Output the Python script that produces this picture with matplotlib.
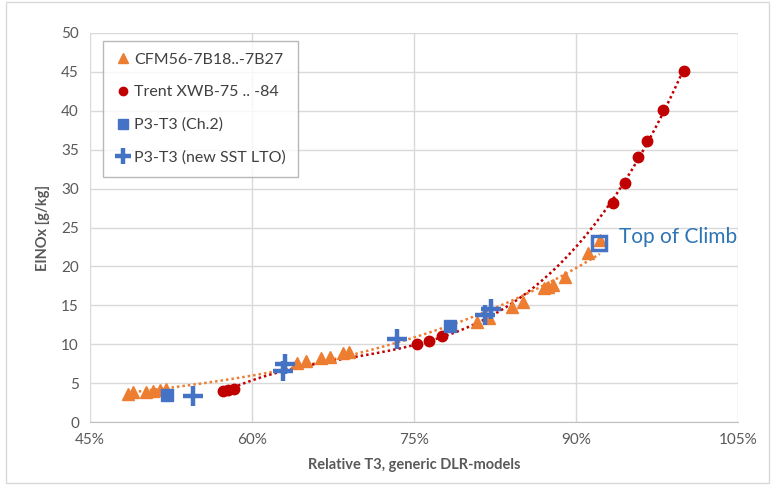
import matplotlib.pyplot as plt
import numpy as np

# CFM56-7B18..-7B27 (orange triangles)
cfm_x = [48.5, 49.0, 50.2, 50.8, 51.5, 52.0, 64.2, 65.0, 66.4, 67.2, 68.4, 69.0,
         80.8, 81.9, 84.1, 85.1, 87.0, 87.4, 87.9, 89.0, 91.1, 92.2]
cfm_y = [3.6, 3.8, 3.9, 4.0, 4.1, 4.3, 7.6, 7.8, 8.2, 8.4, 8.9, 9.0,
         12.9, 13.4, 14.8, 15.4, 17.2, 17.4, 17.6, 18.6, 21.7, 23.4]

# Trent XWB-75 .. -84 (red circles)
trent_x = [57.3, 57.8, 58.3, 75.3, 76.4, 77.6, 93.4, 94.5, 95.7, 96.6, 98.1, 100.0]
trent_y = [4.0, 4.1, 4.3, 10.0, 10.4, 11.0, 28.1, 30.7, 34.1, 36.1, 40.1, 45.1]

# P3-T3 (Ch.2) (blue squares)
ch2_x = [52.1, 78.3]
ch2_y = [3.5, 12.3]

# P3-T3 (new SST LTO) (blue plus)
sst_x = [54.5, 62.9, 63.1, 73.4, 81.6, 82.1]
sst_y = [3.3, 6.6, 7.4, 10.7, 13.8, 14.5]

# top of climb point
toc_x = [92.1]
toc_y = [23.0]

orange = '#ED7D31'
red = '#C00000'
blue = '#4472C4'
grey = '#595959'

plt.rcParams['font.family'] = ['Lato', 'DejaVu Sans']

fig = plt.figure(figsize=(7.71, 4.88), dpi=100)
ax = fig.add_axes([90 / 771, 66 / 488, 648 / 771, 389 / 488])

# trendlines like Excel: exponential for CFM, 3rd order poly for Trent
def exp_fit(x, y):
    b, a = np.polyfit(x, np.log(y), 1)
    xx = np.linspace(min(x), max(x), 200)
    return xx, np.exp(a + b * xx)

def poly_fit(x, y, deg=3):
    c = np.polyfit(x, y, deg)
    xx = np.linspace(min(x), max(x), 200)
    return xx, np.polyval(c, xx)

xx, yy = exp_fit(cfm_x, cfm_y)
ax.plot(xx, yy, ls=(0, (1, 1.2)), color=orange, lw=1.8, zorder=2)
xx, yy = poly_fit(trent_x, trent_y)
ax.plot(xx, yy, ls=(0, (1, 1.2)), color=red, lw=1.8, zorder=2)

ax.plot(cfm_x, cfm_y, ls='none', marker='^', ms=8.5, color=orange,
        label='CFM56-7B18..-7B27', zorder=3)
ax.plot(trent_x, trent_y, ls='none', marker='o', ms=7.5, color=red,
        label='Trent XWB-75 .. -84', zorder=3)
ax.plot(ch2_x, ch2_y, ls='none', marker='s', ms=9, color=blue,
        label='P3-T3 (Ch.2)', zorder=4)
ax.plot(sst_x, sst_y, ls='none', marker='+', ms=14, mew=3.2, color=blue,
        label='P3-T3 (new SST LTO)', zorder=4)
ax.plot(toc_x, toc_y, ls='none', marker='s', ms=10, mfc='none', mec=blue,
        mew=2.5, zorder=5)
ax.text(94.0, 23.8, 'Top of Climb', color='#2E75B6', fontsize=15,
        va='center', ha='left', clip_on=False)

ax.set_xlim(45, 105)
ax.set_ylim(0, 50)
ax.set_xticks([45, 60, 75, 90, 105])
ax.set_xticklabels(['45%', '60%', '75%', '90%', '105%'])
ax.set_yticks(range(0, 51, 5))
ax.grid(True, color='#D9D9D9', lw=1)
ax.set_axisbelow(True)
for s in ['top', 'right', 'left']:
    ax.spines[s].set_visible(False)
ax.spines['bottom'].set_color('#BFBFBF')
ax.tick_params(length=0, colors=grey, labelsize=11, pad=8)

ax.set_xlabel('Relative T3, generic DLR-models', fontsize=10.5,
              fontweight='bold', color=grey, labelpad=8)
ax.set_ylabel('EINOx [g/kg]', fontsize=10.5, fontweight='bold', color=grey,
              labelpad=8)

leg = ax.legend(loc='upper left', bbox_to_anchor=(0.02, 0.98), fontsize=11.5,
                frameon=True, fancybox=False, edgecolor='#A6A6A6',
                labelspacing=1.15, handletextpad=0.2, handlelength=1.0,
                borderpad=0.75, borderaxespad=0, markerscale=0.8,
                labelcolor='#404040')
leg.get_frame().set_linewidth(1)

fig.patches.append(plt.Rectangle((0.008, 0.01), 0.99, 0.985, transform=fig.transFigure,
                                 fill=False, edgecolor='#D9D9D9', lw=1))

fig.savefig('out.png', dpi=100)
